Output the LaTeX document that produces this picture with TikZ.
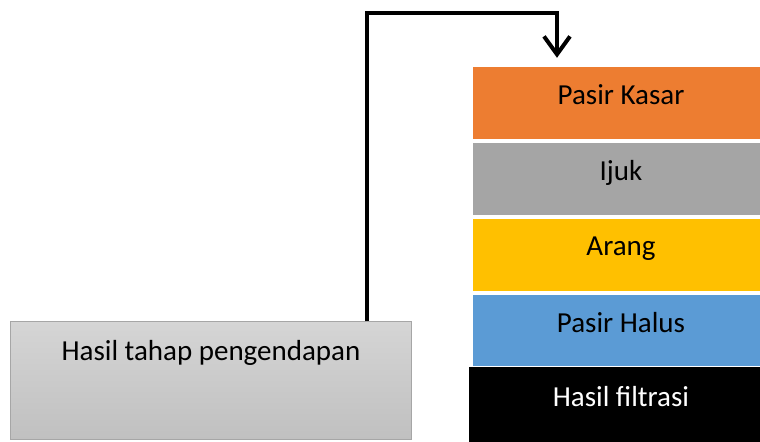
\documentclass[tikz,border=0pt]{standalone}
\usepackage{fontspec}
\setmainfont{Carlito}
\usetikzlibrary{arrows.meta}
\definecolor{kasar}{HTML}{ED7D31}
\definecolor{ijuk}{HTML}{A5A5A5}
\definecolor{arang}{HTML}{FFC000}
\definecolor{halus}{HTML}{5B9BD5}
\definecolor{gtop}{HTML}{D5D5D5}
\definecolor{gbot}{HTML}{C0C0C0}
\definecolor{gborder}{HTML}{A6A6A6}
\begin{document}
\begin{tikzpicture}[x=1bp,y=-1bp,
  layer/.style={draw=none, inner sep=0pt, minimum width=287bp, minimum height=72bp},
  lbl/.style={anchor=base, inner sep=0pt, font=\fontsize{29bp}{34bp}\selectfont},
  flow/.style={line width=4bp, -{Straight Barb[length=18bp, width=26bp, line width=4bp]}}]
\useasboundingbox (0,0) rectangle (760,442);
% stack
\node[layer, fill=kasar] (kasar) at (616.5,103) {};
\node[layer, fill=ijuk] (ijuk) at (616.5,179) {};
\node[layer, fill=arang] (arang) at (616.5,255) {};
\node[layer, fill=halus, minimum height=71bp] (halus) at (616.5,330.5) {};
\node[layer, fill=black, minimum width=291bp, minimum height=75bp] (filtrasi) at (614.5,404.5) {};
\node[lbl] (tkasar) at (621,105) {Pasir Kasar};
\node[lbl] (tijuk) at (621,181) {Ijuk};
\node[lbl] (tarang) at (621,256) {Arang};
\node[lbl] (thalus) at (621,332.5) {Pasir Halus};
\node[lbl, text=white] (tfiltrasi) at (621,406.5) {Hasil filtrasi};
% sediment box
\node[draw=gborder, line width=1bp, top color=gtop, bottom color=gbot, inner sep=0pt,
  minimum width=400bp, minimum height=117bp] (endap) at (211,380.5) {};
\node[lbl] (tendap) at (211,360.5) {Hasil tahap pengendapan};
% connector
\coordinate (c1) at (367,13);
\coordinate (c2) at (557,13);
\draw[flow, line cap=butt] (endap.north -| c1) -- (c1) -- (c2) -- ([yshift=9bp]kasar.north -| c2);
\end{tikzpicture}
\end{document}
